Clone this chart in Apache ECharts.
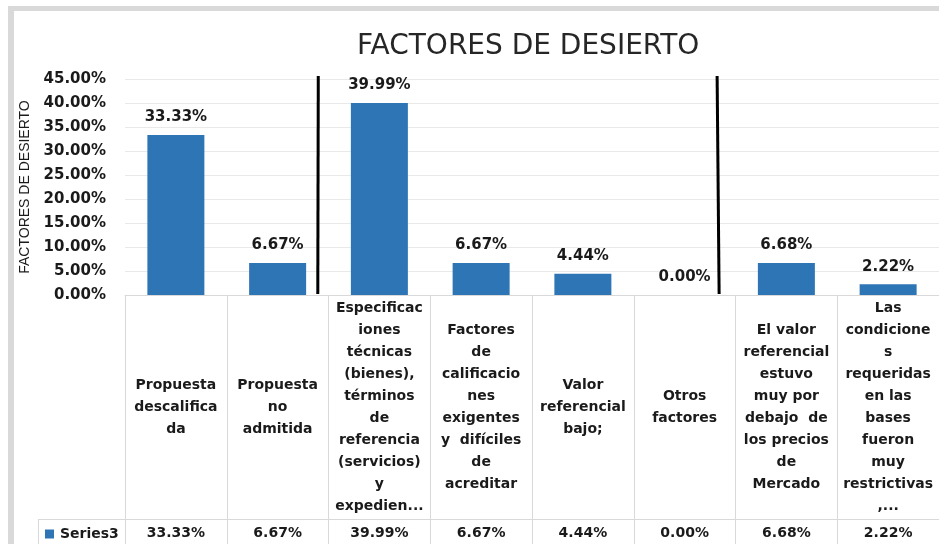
<!DOCTYPE html>
<html>
<head>
<meta charset="utf-8">
<title>Factores de desierto</title>
<script src="https://cdn.jsdelivr.net/npm/echarts@6/dist/echarts.min.js"></script>
<style>
  html, body { margin: 0; padding: 0; background: #fff; }
  #main { width: 939px; height: 544px; }
</style>
</head>
<body>
<div id="main"></div>
<script>
// categorías (con los saltos de línea de la tabla de datos)
const categories = [
  "Propuesta\ndescalifica\nda",
  "Propuesta\nno\nadmitida",
  "Especificac\niones\ntécnicas\n(bienes),\ntérminos\nde\nreferencia\n(servicios)\ny\nexpedien...",
  "Factores\nde\ncalificacio\nnes\nexigentes\ny  difíciles\nde\nacreditar",
  "Valor\nreferencial\nbajo;",
  "Otros\nfactores",
  "El valor\nreferencial\nestuvo\nmuy por\ndebajo  de\nlos precios\nde\nMercado",
  "Las\ncondicione\ns\nrequeridas\nen las\nbases\nfueron\nmuy\nrestrictivas\n,...",
];
const values = [33.33, 6.67, 39.99, 6.67, 4.44, 0.0, 6.68, 2.22];
const seriesName = "Series3";
const yMax = 45;
const yStep = 5;
// líneas negras dibujadas sobre el gráfico (en unidades de categoría)
const dividers = [1.89, 5.81];

const pct = (v) => v.toFixed(2) + "%";

const chart = echarts.init(document.getElementById("main"));

const gridLeft = 125, gridTop = 79, gridW = 816, gridH = 216;
const step = gridW / categories.length;
const bold = { fontFamily: "DejaVu Sans", fontWeight: "bold", color: "#1a1a1a" };

const dividerLines = dividers.map((d, i) => ({
  type: "line",
  shape: {
    x1: gridLeft + d * step + (i === 0 ? 0.5 : -0.5),
    y1: gridTop - 3,
    x2: gridLeft + d * step + (i === 0 ? 0 : 1.5),
    y2: gridTop + gridH - 1,
  },
  style: { stroke: "#000", lineWidth: 3 },
  z: 10,
}));

chart.setOption({
  backgroundColor: "#fff",
  animation: false,
  title: {
    text: "FACTORES DE DESIERTO",
    left: 352,
    top: 28,
    textStyle: {
      fontFamily: "DejaVu Sans",
      fontWeight: "normal",
      fontSize: 28,
      color: "#262626",
    },
  },
  legend: {
    left: 45,
    top: 527,
    padding: 0,
    icon: "rect",
    itemWidth: 9,
    itemHeight: 9,
    itemGap: 5,
    textStyle: Object.assign({ fontSize: 14, padding: [0, 0, 0, 1] }, bold),
    data: [seriesName],
  },
  grid: { left: gridLeft, top: gridTop, width: gridW, height: gridH },
  xAxis: [
    {
      type: "category",
      data: categories,
      axisLine: { lineStyle: { color: "#D9D9D9", width: 1 } },
      axisTick: {
        show: true,
        alignWithLabel: false,
        length: 250,
        lineStyle: { color: "#D9D9D9" },
      },
      axisLabel: Object.assign(
        {
          interval: 0,
          fontSize: 14,
          lineHeight: 22,
          margin: 112,
          verticalAlign: "middle",
          align: "center",
        },
        bold
      ),
    },
    {
      type: "category",
      position: "bottom",
      data: values.map(pct),
      axisLine: { show: false },
      axisTick: { show: false },
      axisLabel: Object.assign(
        { interval: 0, fontSize: 14, margin: 238, verticalAlign: "middle" },
        bold
      ),
    },
  ],
  yAxis: {
    type: "value",
    min: 0,
    max: yMax,
    interval: yStep,
    name: "FACTORES DE DESIERTO",
    nameLocation: "middle",
    nameGap: 92,
    nameTextStyle: {
      fontFamily: "Liberation Sans",
      fontSize: 14,
      color: "#1a1a1a",
    },
    axisLine: { show: false },
    axisTick: { show: false },
    splitLine: { lineStyle: { color: "#E9E9E9" } },
    axisLabel: Object.assign(
      { fontSize: 15, margin: 19, formatter: (v) => pct(v) },
      bold
    ),
  },
  series: [
    {
      name: seriesName,
      type: "bar",
      data: values,
      barWidth: 57,
      itemStyle: { color: "#2E75B6" },
      label: Object.assign(
        {
          show: true,
          position: "top",
          distance: 10,
          fontSize: 15,
          formatter: (p) => pct(p.value),
        },
        bold
      ),
    },
  ],
  graphic: [
    // borde gris del área del gráfico
    { type: "rect", shape: { x: 8, y: 6, width: 6, height: 538 }, style: { fill: "#D9D9D9" } },
    { type: "rect", shape: { x: 8, y: 6, width: 931, height: 5 }, style: { fill: "#D9D9D9" } },
    // fila de la serie en la tabla de datos
    {
      type: "line",
      shape: { x1: 38, y1: 519.5, x2: 941, y2: 519.5 },
      style: { stroke: "#D9D9D9", lineWidth: 1 },
    },
    {
      type: "line",
      shape: { x1: 38.5, y1: 519, x2: 38.5, y2: 544 },
      style: { stroke: "#D9D9D9", lineWidth: 1 },
    },
  ].concat(dividerLines),
});
</script>
</body>
</html>
